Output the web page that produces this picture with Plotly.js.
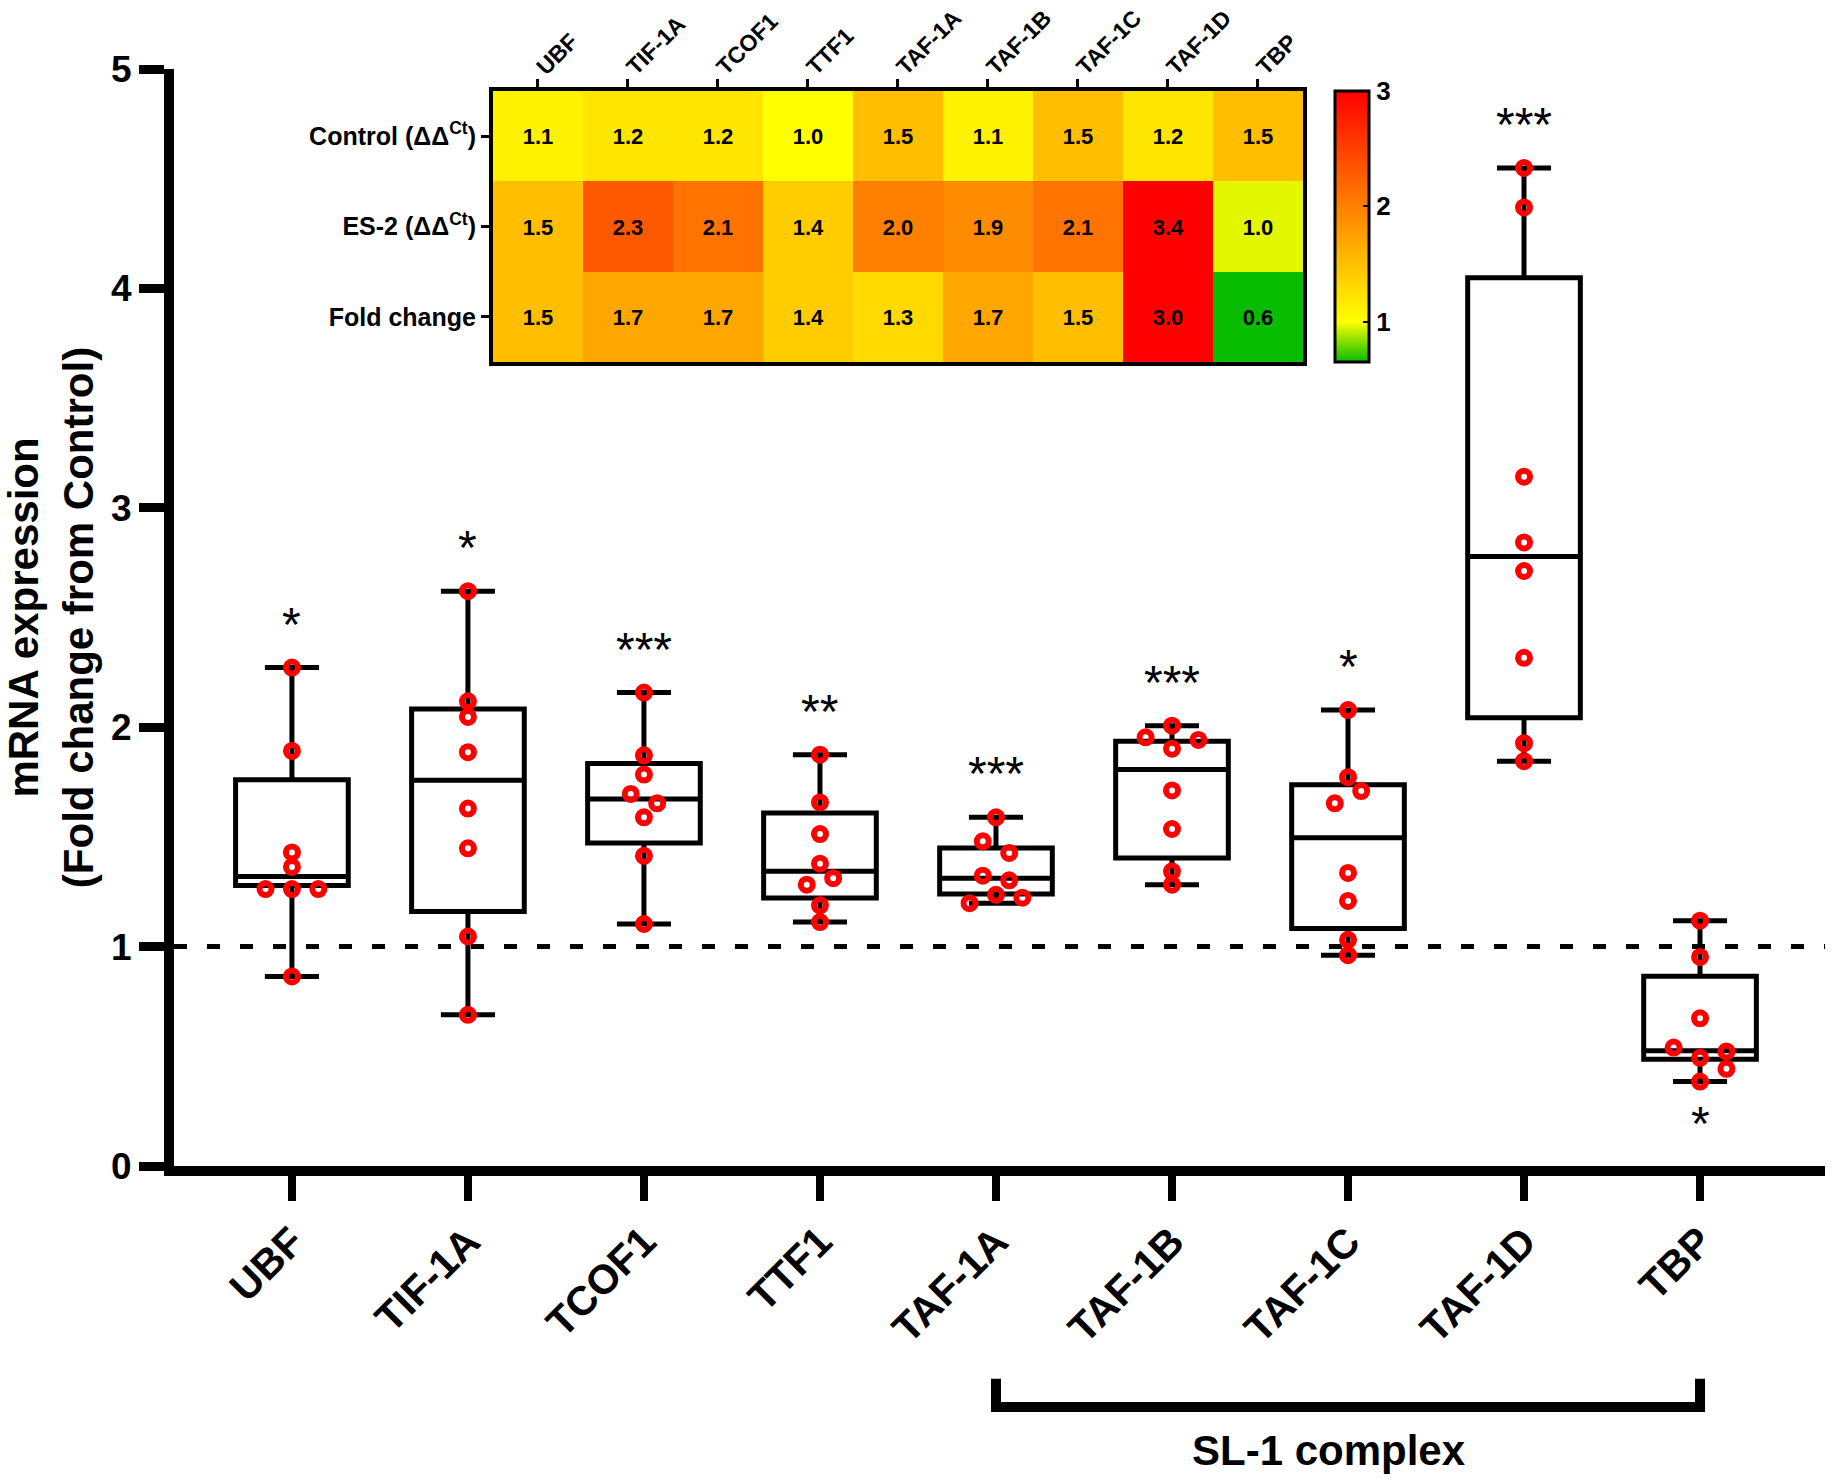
<!DOCTYPE html>
<html>
<head>
<meta charset="utf-8">
<script src="https://cdn.plot.ly/plotly-3.0.1.min.js"></script>
<style>html,body{margin:0;padding:0;background:#fff;}#chart{width:1832px;height:1478px;}</style>
</head>
<body>
<div id="chart"></div>
<script>
// ---------- data ----------
const categories = ['UBF','TIF-1A','TCOF1','TTF1','TAF-1A','TAF-1B','TAF-1C','TAF-1D','TBP'];

// individual replicate values (fold change from control)
const ptsUBF   = [2.272, 1.892, 1.429, 1.363, 1.262, 1.262, 1.262, 0.864];
const ptsTIF1A = [2.620, 2.118, 2.047, 1.886, 1.629, 1.448, 1.046, 0.689];
const ptsTCOF1 = [2.158, 1.872, 1.784, 1.696, 1.653, 1.589, 1.414, 1.103];
const ptsTTF1  = [1.875, 1.657, 1.513, 1.378, 1.282, 1.312, 1.188, 1.112];
const ptsTAF1A = [1.589, 1.480, 1.427, 1.323, 1.302, 1.236, 1.223, 1.198];
const ptsTAF1B = [2.007, 1.902, 1.942, 1.954, 1.712, 1.536, 1.343, 1.282];
const ptsTAF1C = [2.078, 1.772, 1.653, 1.709, 1.336, 1.208, 1.031, 0.961];
const ptsTAF1D = [4.549, 4.369, 3.142, 2.842, 2.712, 2.316, 1.927, 1.845];
const ptsTBP   = [1.118, 0.953, 0.673, 0.493, 0.522, 0.540, 0.443, 0.385];

// box statistics
const boxQ1     = [1.278, 1.160, 1.472, 1.221, 1.240, 1.404, 1.083, 2.043, 0.487];
const boxMedian = [1.320, 1.758, 1.673, 1.343, 1.312, 1.807, 1.496, 2.778, 0.525];
const boxQ3     = [1.760, 2.083, 1.834, 1.609, 1.449, 1.936, 1.738, 4.049, 0.865];

// significance marks
const sigLabels = ['*','*','***','**','***','***','*','***','*'];
const sigSide   = ['above','above','above','above','above','above','above','above','below'];

const referenceLevel = 1;

// heat map
const heatRows    = ['Control (ΔΔ<sup>Ct</sup>)', 'ES-2 (ΔΔ<sup>Ct</sup>)', 'Fold change'];
const heatControl = [1.1, 1.2, 1.2, 1.0, 1.5, 1.1, 1.5, 1.2, 1.5];
const heatES2     = [1.5, 2.3, 2.1, 1.4, 2.0, 1.9, 2.1, 3.4, 0.96];
const heatFold    = [1.5, 1.7, 1.7, 1.4, 1.3, 1.7, 1.5, 3.0, 0.6];
const colorTicks  = [1, 2, 3];

// bracket
const complexLabel = 'SL-1 complex';
const complexFirst = 'TAF-1A';
const complexLast  = 'TBP';

// ---------- drawing ----------
const FONT = 'Liberation Sans, Arial, Helvetica, sans-serif';
const allPts = [ptsUBF, ptsTIF1A, ptsTCOF1, ptsTTF1, ptsTAF1A, ptsTAF1B, ptsTAF1C, ptsTAF1D, ptsTBP];
const idx = categories.map((c, i) => i);
const xRange = [-0.67, 8.71];

// simple beeswarm: greedy slot placement, then centre each cluster
function swarm(vals, T) {
  const slot = new Array(vals.length);
  const placed = [];
  const cands = [0, 1, -1, 2, -2, 3, -3];
  vals.forEach((v, i) => {
    for (const c of cands) {
      if (!placed.some(p => p.s === c && Math.abs(p.v - v) < T)) {
        slot[i] = c; placed.push({v: v, s: c}); break;
      }
    }
  });
  const order = vals.map((v, i) => i).sort((a, b) => vals[b] - vals[a]);
  let group = [order[0]];
  const groups = [];
  for (let k = 1; k < order.length; k++) {
    if (Math.abs(vals[order[k - 1]] - vals[order[k]]) < T) group.push(order[k]);
    else { groups.push(group); group = [order[k]]; }
  }
  groups.push(group);
  const out = slot.slice();
  groups.forEach(g => {
    const s = g.map(i => slot[i]);
    const mid = (Math.min(...s) + Math.max(...s)) / 2;
    g.forEach(i => { out[i] = slot[i] - mid; });
  });
  return out;
}

const SPACING = 0.15, YTOL = 0.06;
const ptX = [], ptY = [];
allPts.forEach((vals, i) => {
  const off = swarm(vals, YTOL);
  vals.forEach((v, k) => { ptX.push(i + off[k] * SPACING); ptY.push(v); });
});

const lowerF = allPts.map(a => Math.min(...a));
const upperF = allPts.map(a => Math.max(...a));

const boxTrace = {
  type: 'box', x: idx, q1: boxQ1, median: boxMedian, q3: boxQ3,
  lowerfence: lowerF, upperfence: upperF,
  width: 0.64, whiskerwidth: 0.48, boxpoints: false,
  line: {color: '#000', width: 5}, fillcolor: 'rgba(0,0,0,0)',
  hoverinfo: 'skip', showlegend: false, xaxis: 'x', yaxis: 'y'
};

const ptsTrace = {
  type: 'scatter', mode: 'markers', x: ptX, y: ptY,
  marker: {symbol: 'circle-open', size: 12, color: '#ff0000', line: {width: 6, color: '#ff0000'}},
  hoverinfo: 'skip', showlegend: false, cliponaxis: false, xaxis: 'x', yaxis: 'y'
};

const zmin = 0.65, zmax = 3;
const yellowPos = (1 - zmin) / (zmax - zmin);
const heatTrace = {
  type: 'heatmap', x: categories, y: heatRows,
  z: [heatControl, heatES2, heatFold],
  zmin: zmin, zmax: zmax,
  colorscale: [[0, '#08bc00'], [yellowPos, '#ffff00'], [1, '#ff0000']],
  texttemplate: '%{z:.1f}',
  textfont: {family: FONT, size: 22, weight: 700, color: '#000'},
  xaxis: 'x2', yaxis: 'y2', hoverinfo: 'skip',
  colorbar: {
    x: 0.7032, xanchor: 'left', xpad: 0, ypad: 0,
    y: 0.8564, yanchor: 'middle',
    thickness: 34, thicknessmode: 'pixels', len: 271, lenmode: 'pixels',
    outlinewidth: 3, outlinecolor: '#000',
    tickvals: colorTicks, ticks: 'inside', ticklen: 7, tickwidth: 2, tickcolor: '#000',
    tickprefix: '\u00a0',
    tickfont: {family: FONT, size: 26, weight: 700, color: '#000'}
  }
};

// annotations
const annotations = [];
categories.forEach((c, i) => {
  const above = sigSide[i] === 'above';
  annotations.push({
    x: i, xref: 'x', yref: 'y',
    y: above ? upperF[i] : lowerF[i],
    yanchor: above ? 'bottom' : 'top',
    yshift: above ? 15 : -13,
    text: sigLabels[i], showarrow: false,
    font: {family: FONT, size: 48, color: '#000'}
  });
});
const iFirst = categories.indexOf(complexFirst), iLast = categories.indexOf(complexLast);
annotations.push({
  x: (iFirst + iLast) / 2, xref: 'x', xshift: -19, y: -0.2589, yref: 'paper', yanchor: 'middle',
  text: complexLabel, showarrow: false,
  font: {family: FONT, size: 42, weight: 700, color: '#000'}
});

const toPaperX = v => (v - xRange[0]) / (xRange[1] - xRange[0]);
const bx0 = toPaperX(iFirst), bx1 = toPaperX(iLast);
const shapes = [
  {type: 'line', xref: 'paper', yref: 'y', x0: 0, x1: 1, y0: referenceLevel, y1: referenceLevel,
   line: {color: '#000', width: 5, dash: '13px,20px'}, layer: 'below'},
  {type: 'path', xref: 'paper', yref: 'paper',
   path: `M ${bx0},-0.194 L ${bx0},-0.2197 L ${bx1},-0.2197 L ${bx1},-0.194`,
   line: {color: '#000', width: 10}}
];

const layout = {
  width: 1832, height: 1478,
  margin: {l: 174, r: 7, t: 69, b: 312, pad: 0},
  paper_bgcolor: '#fff', plot_bgcolor: 'rgba(0,0,0,0)',
  showlegend: false,
  font: {family: FONT, color: '#000'},
  xaxis: {
    domain: [0, 1], range: xRange, showgrid: false, zeroline: false,
    showline: true, linewidth: 10, linecolor: '#000',
    tickmode: 'array', tickvals: idx, ticktext: categories,
    ticks: 'outside', ticklen: 25, tickwidth: 8, tickcolor: '#000',
    tickangle: -45, tickfont: {family: FONT, size: 41, weight: 700, color: '#000'},
    anchor: 'y'
  },
  yaxis: {
    domain: [0, 1], range: [0, 5], showgrid: false, zeroline: false,
    showline: true, linewidth: 10, linecolor: '#000',
    tickmode: 'array', tickvals: [0, 1, 2, 3, 4, 5],
    ticks: 'outside', ticklen: 25, tickwidth: 9, tickcolor: '#000',
    tickfont: {family: FONT, size: 37, weight: 700, color: '#000'},
    title: {text: 'mRNA expression<br>(Fold change from Control)', standoff: 18,
            font: {family: FONT, size: 42, weight: 700, color: '#000'}},
    anchor: 'x'
  },
  xaxis2: {
    domain: [0.1932, 0.6838], anchor: 'y2', side: 'top', type: 'category',
    showgrid: false, zeroline: false, showline: true, mirror: true, linewidth: 4, linecolor: '#000',
    ticks: 'outside', ticklen: 8, tickwidth: 3, tickcolor: '#000', tickangle: -45,
    ticklabelstandoff: -10,
    tickfont: {family: FONT, size: 23, weight: 700, color: '#000'}
  },
  yaxis2: {
    domain: [0.7329, 0.98], anchor: 'x2', type: 'category', autorange: 'reversed',
    showgrid: false, zeroline: false, showline: true, mirror: true, linewidth: 4, linecolor: '#000',
    ticks: 'outside', ticklen: 8, tickwidth: 3, tickcolor: '#000',
    tickfont: {family: FONT, size: 25, weight: 700, color: '#000'}
  },
  annotations: annotations,
  shapes: shapes
};

Plotly.newPlot('chart', [boxTrace, ptsTrace, heatTrace], layout, {staticPlot: true});
</script>
</body>
</html>
